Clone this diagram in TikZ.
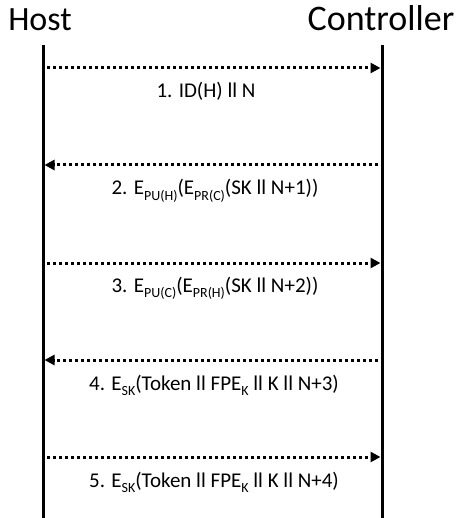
\documentclass[tikz,border=0pt]{standalone}
\usepackage{fontspec}
\setmainfont{Carlito}
\usetikzlibrary{arrows.meta}
\newcommand\sbs[1]{\raisebox{-0.25em}{\fontsize{14}{14}\selectfont #1}}
\begin{document}
\begin{tikzpicture}[x=1pt,y=-1pt,
  head/.style={font=\fontsize{34}{36}\selectfont, inner sep=0pt, anchor=base},
  life/.style={line width=3pt},
  msg/.style={line width=3pt, dash pattern=on 3pt off 3pt, -{Triangle[length=10pt,width=10pt]}, shorten >=1.5pt},
  lbl/.style={font=\fontsize{21}{23}\selectfont, inner sep=0pt, anchor=base}]
\useasboundingbox (0,0) rectangle (463,518);
\node[head] (host) at (40,31) {Host};
\node[head,font=\fontsize{36}{38}\selectfont] (ctrl) at (381,31) {Controller};
\coordinate (ht) at (43,45);
\coordinate (hb) at (43,518);
\coordinate (ct) at (382,45);
\coordinate (cb) at (382,518);
\draw[life] (ht) -- (hb);
\draw[life] (ct) -- (cb);
\foreach \i/\y in {1/68,2/165,3/263,4/360,5/457}{
  \coordinate (h\i) at (43,\y);
  \coordinate (c\i) at (382,\y);
}
\draw[msg] (h1) ++(4,0) coordinate (h1s) (h1s) -- (c1);
\draw[msg] (c2) ++(-4,0) coordinate (c2s) (c2s) -- (h2);
\draw[msg] (h3) ++(4,0) coordinate (h3s) (h3s) -- (c3);
\draw[msg] (c4) ++(-4,0) coordinate (c4s) (c4s) -- (h4);
\draw[msg] (h5) ++(4,0) coordinate (h5s) (h5s) -- (c5);
\node[lbl] (l1) at (206,98) {1. ID(H) ll N};
\node[lbl] (l2) at (215,195) {2. E\sbs{PU(H)}(E\sbs{PR(C)}(SK ll N+1))};
\node[lbl] (l3) at (215,292) {3. E\sbs{PU(C)}(E\sbs{PR(H)}(SK ll N+2))};
\node[lbl] (l4) at (214,390) {4. E\sbs{SK}(Token ll FPE\sbs{K} ll K ll N+3)};
\node[lbl] (l5) at (214,487) {5. E\sbs{SK}(Token ll FPE\sbs{K} ll K ll N+4)};
\end{tikzpicture}
\end{document}
